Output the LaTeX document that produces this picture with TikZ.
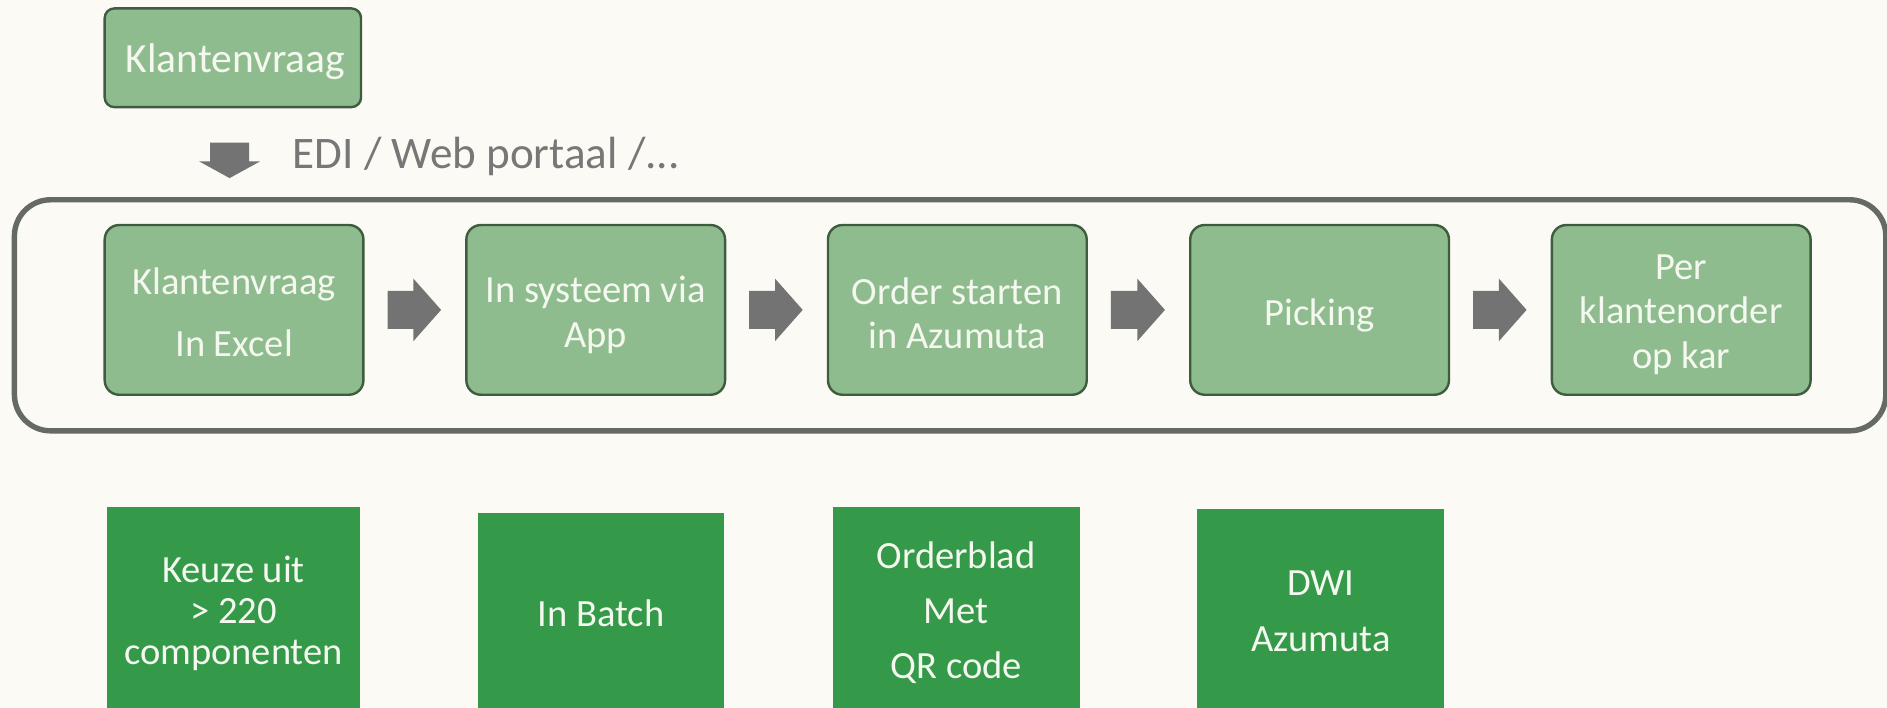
\documentclass[tikz,border=0pt]{standalone}
\usepackage{fontspec}
\setmainfont{Carlito}
\usetikzlibrary{calc}
\definecolor{bg}{HTML}{FCFAF5}
\definecolor{lgreen}{HTML}{8FBC8F}
\definecolor{dgreen}{HTML}{3E5C3E}
\definecolor{mgreen}{HTML}{35994A}
\definecolor{agrey}{HTML}{737373}
\definecolor{framec}{HTML}{656A64}
\definecolor{txtw}{HTML}{F4F8EE}
\definecolor{edig}{HTML}{777777}
% block arrow (right) from #1 to #2
\newcommand\harrow[2]{\fill[agrey] let \p1=(#1), \p2=(#2) in
  (\x1,\y1+15.75pt) -- (\x2-23pt,\y1+15.75pt) -- (\x2-23pt,\y1+26pt) -- (\x2,\y1)
  -- (\x2-23pt,\y1-26pt) -- (\x2-23pt,\y1-15.75pt) -- (\x1,\y1-15.75pt) -- cycle;}
% block arrow (down) from #1 to #2
\newcommand\varrow[2]{\fill[agrey] let \p1=(#1), \p2=(#2) in
  (\x1-16.25pt,\y1) -- (\x1+16.25pt,\y1) -- (\x1+16.25pt,\y2+14pt) -- (\x1+25.5pt,\y2+14pt)
  -- (\x2,\y2) -- (\x1-25.5pt,\y2+14pt) -- (\x1-16.25pt,\y2+14pt) -- cycle;}
\begin{document}
\begin{tikzpicture}[x=1pt,y=-1pt,
  procbox/.style={draw=dgreen, fill=lgreen, line width=2pt, rounded corners=12pt,
    minimum width=215pt, minimum height=141pt, inner sep=0pt},
  ptxt/.style={text=txtw, align=center, inner sep=0pt, font=\fontsize{32}{37}\selectfont},
  infobox/.style={fill=mgreen, inner sep=0pt, minimum width=205pt},
  itxt/.style={text=txtw, align=center, inner sep=0pt, font=\fontsize{32}{34}\selectfont}]
\fill[bg] (0,0) rectangle (1568,588);
\useasboundingbox (0,0) rectangle (1568,588);
\clip (0,0) rectangle (1568,588);

% top request box
\node[procbox, minimum width=213pt, minimum height=82pt, rounded corners=8pt,
  label={[ptxt, font=\fontsize{34.5}{40}\selectfont, xshift=2pt, yshift=-3pt]center:Klantenvraag}] (top) at (193.5,48) {};

% channel arrow and label
\coordinate (d1) at (190.8,118.6);
\coordinate (d2) at (190.8,148);
\varrow{d1}{d2}
\node[anchor=base west, inner sep=0pt, text=edig, font=\fontsize{37.5}{44}\selectfont]
  (edi) at (243,140) {EDI / Web portaal /...};

% frame
\node[draw=framec, line width=4.5pt, rounded corners=30pt, minimum width=1555pt,
  minimum height=192pt, inner sep=0pt] (frame) at (789.5,262) {};

% process boxes
\node[procbox, label={[ptxt, font=\fontsize{32}{51}\selectfont, yshift=-2pt]center:{Klantenvraag\\In Excel}}] (p1) at (194.5,257.5) {};
\node[procbox, label={[ptxt, yshift=-4pt]center:{In systeem via\\App}}] (p2) at (495,257.5) {};
\node[procbox, label={[ptxt, yshift=-3pt]center:{Order starten\\in Azumuta}}] (p3) at (795.5,257.5) {};
\node[procbox, label={[ptxt, yshift=-4.5pt]center:Picking}] (p4) at (1096.5,257.5) {};
\node[procbox, label={[ptxt, yshift=-4pt]center:{Per\\klantenorder\\op kar}}] (p5) at (1397,257.5) {};

\harrow{[xshift=19pt]p1.east}{[xshift=-20pt]p2.west}
\harrow{[xshift=19pt]p2.east}{[xshift=-20pt]p3.west}
\harrow{[xshift=19pt]p3.east}{[xshift=-20pt]p4.west}
\harrow{[xshift=19pt]p4.east}{[xshift=-20pt]p5.west}

% info boxes
\node[infobox, minimum width=210pt, minimum height=172pt,
  label={[itxt, yshift=-2.5pt]center:{Keuze uit\\> 220\\componenten}}] (b1) at (194,507) {};
\node[infobox, minimum height=162pt,
  label={[itxt, yshift=-3pt]center:In Batch}] (b2) at (499.5,507) {};
\node[infobox, minimum height=172pt,
  label={[itxt, font=\fontsize{32}{46}\selectfont, yshift=-2pt]center:{Orderblad\\Met\\QR code}}] (b3) at (794.5,507) {};
\node[infobox, minimum height=168pt,
  label={[itxt, font=\fontsize{32}{47}\selectfont, yshift=-1pt]center:{DWI\\Azumuta}}] (b4) at (1097.5,507) {};
\end{tikzpicture}
\end{document}
